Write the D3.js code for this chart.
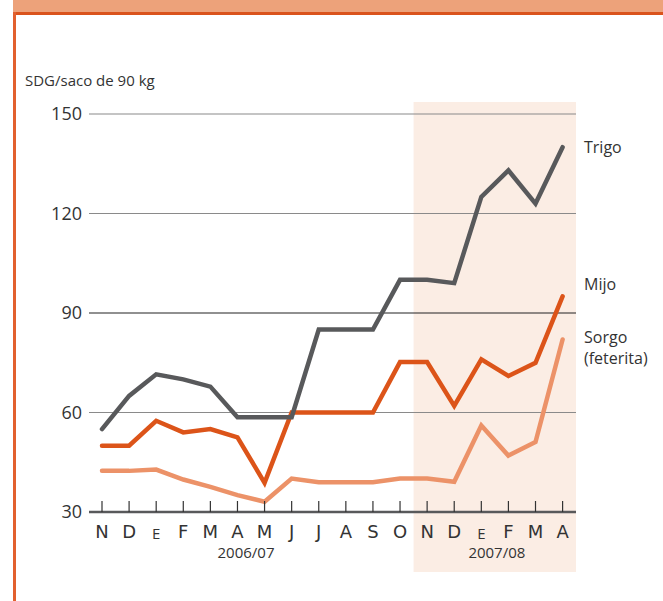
<!DOCTYPE html>
<html>
<head>
<meta charset="utf-8">
<script src="https://cdn.jsdelivr.net/npm/d3@7"></script>
<style>
  body { margin: 0; background: #fff; }
  svg { display: block; }
  text { font-family: "Open Sans", sans-serif; fill: #333; }
</style>
</head>
<body>
<svg class="graph" width="663" height="601"></svg>
<script>
// months Nov 2006 .. Apr 2008
var months = ['N','D','E','F','M','A','M','J','J','A','S','O','N','D','E','F','M','A'];
var trigo  = [55, 65, 71.5, 70, 67.8, 58.6, 58.6, 58.6, 85, 85, 85, 100, 100, 99, 125, 133, 123, 140];
var mijo   = [50, 50, 57.5, 54, 55, 52.5, 38.8, 60, 60, 60, 60, 75.2, 75.2, 62, 76, 71, 75, 95];
var sorgo  = [42.4, 42.4, 42.8, 39.8, 37.6, 35.1, 33.1, 40.1, 39, 39, 39, 40.1, 40.1, 39.1, 56.1, 47, 51.1, 82];
var yTicks = [30, 60, 90, 120, 150];
var seasons = [{ label: '2006/07', from: 0, to: 11 }, { label: '2007/08', from: 12, to: 17 }];

var svg = d3.select('.graph');

// header band + frame
svg.append('rect').attr('x', 13).attr('y', 0).attr('width', 650).attr('height', 12).style('fill', '#eda27a');
svg.append('rect').attr('x', 13).attr('y', 12).attr('width', 650).attr('height', 3).style('fill', '#da531c');
svg.append('rect').attr('x', 13).attr('y', 12).attr('width', 3).attr('height', 589).style('fill', '#e2602f');

var x = d3.scalePoint().domain(d3.range(months.length)).range([102, 562.6]);
var y = d3.scaleLinear().domain([30, 150]).range([512, 114]);
var step = x.step();

// shaded 2007/08 period
svg.append('rect')
  .attr('x', x(12) - step / 2)
  .attr('y', 102)
  .attr('width', 576 - (x(12) - step / 2))
  .attr('height', 470)
  .style('fill', '#fbede4');

// gridlines
svg.selectAll('line.grid')
  .data(yTicks.slice(1))
  .enter()
  .append('line')
  .attr('class', 'grid')
  .attr('x1', 89)
  .attr('x2', 576)
  .attr('y1', function(d) { return y(d); })
  .attr('y2', function(d) { return y(d); })
  .style('stroke', function(d) { return d === 90 ? '#222' : '#8a8a8a'; })
  .style('stroke-width', 1.2);

// y labels
svg.selectAll('text.ylab')
  .data(yTicks)
  .enter()
  .append('text')
  .attr('class', 'ylab')
  .attr('x', 82)
  .attr('y', function(d) { return y(d) + 6; })
  .attr('text-anchor', 'end')
  .style('font-size', '18px')
  .text(function(d) { return d; });

svg.append('text').attr('x', 25).attr('y', 86).style('font-size', '15px').text('SDG/saco de 90 kg');

// lines
var line = d3.line()
  .x(function(d, i) { return x(i); })
  .y(function(d) { return y(d); });

var series = [
  { name: 'Trigo', values: trigo, color: '#58595b' },
  { name: 'Mijo', values: mijo, color: '#dc5419' },
  { name: 'Sorgo', values: sorgo, color: '#ec9268' }
];

svg.selectAll('path.series')
  .data(series.slice().reverse())
  .enter()
  .append('path')
  .attr('class', 'series')
  .attr('d', function(d) { return line(d.values); })
  .style('fill', 'none')
  .style('stroke', function(d) { return d.color; })
  .style('stroke-width', 4.5)
  .style('stroke-linejoin', 'miter')
  .style('stroke-linecap', 'round');

// x axis
svg.append('line')
  .attr('x1', 89).attr('x2', 576)
  .attr('y1', 512).attr('y2', 512)
  .style('stroke', '#58595b').style('stroke-width', 2.5);

svg.selectAll('line.tick')
  .data(months)
  .enter()
  .append('line')
  .attr('class', 'tick')
  .attr('x1', function(d, i) { return x(i); })
  .attr('x2', function(d, i) { return x(i); })
  .attr('y1', 501)
  .attr('y2', 512)
  .style('stroke', '#333')
  .style('stroke-width', 1.2);

svg.selectAll('text.month')
  .data(months)
  .enter()
  .append('text')
  .attr('class', 'month')
  .attr('x', function(d, i) { return x(i); })
  .attr('y', function(d) { return d === 'E' ? 539 : 538; })
  .attr('text-anchor', 'middle')
  .style('font-family', function(d) { return d === 'E' ? '"Open Sans", sans-serif' : '"DejaVu Sans", sans-serif'; })
  .style('font-size', function(d) { return d === 'E' ? '15px' : '18px'; })
  .text(function(d) { return d; });

svg.selectAll('text.season')
  .data(seasons)
  .enter()
  .append('text')
  .attr('class', 'season')
  .attr('x', function(d) { return d.label === '2006/07' ? (x(d.from) + x(d.to)) / 2 - 5 : (x(d.from) + x(d.to)) / 2 + 2; })
  .attr('y', 558)
  .attr('text-anchor', 'middle')
  .style('font-size', '15px')
  .text(function(d) { return d.label; });

// series labels
var labelPos = [[584, 153, 'Trigo'], [584, 290, 'Mijo'], [584, 343, 'Sorgo'], [584, 364, '(feterita)']];
svg.selectAll('text.slab')
  .data(labelPos)
  .enter()
  .append('text')
  .attr('class', 'slab')
  .attr('x', function(d) { return d[0]; })
  .attr('y', function(d) { return d[1]; })
  .style('font-size', '16px')
  .text(function(d) { return d[2]; });
</script>
</body>
</html>
